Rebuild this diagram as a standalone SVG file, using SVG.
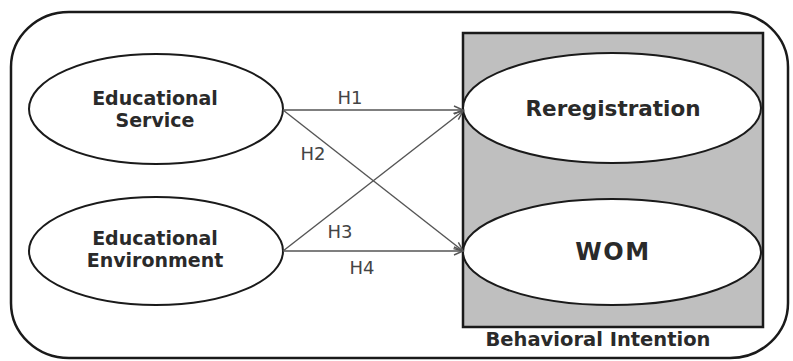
<svg xmlns="http://www.w3.org/2000/svg" width="793" height="361" viewBox="0 0 793 361">
<defs>
<style>
.bold{font-family:"DejaVu Sans",sans-serif;font-weight:bold;fill:#2a2a2a;text-anchor:middle}
.lbl{font-family:"DejaVu Sans",sans-serif;fill:#444;text-anchor:middle;font-size:18px}
.ell{fill:#fff;stroke:#1a1a1a;stroke-width:2}
.con{stroke:#555;stroke-width:1.4;fill:none;marker-end:url(#arr)}
</style>
<marker id="arr" markerWidth="12" markerHeight="12" refX="10" refY="5" orient="auto" markerUnits="userSpaceOnUse">
<path d="M1,1 L10,5 L1,9" fill="none" stroke="#555" stroke-width="1.4"/>
</marker>
</defs>
<rect id="frame" x="11" y="12" width="777" height="346" rx="58" ry="55" fill="#fff" stroke="#1a1a1a" stroke-width="2.5"/>
<g id="behavioral-intention">
<rect x="463" y="33" width="300" height="294" fill="#bfbfbf" stroke="#1a1a1a" stroke-width="2.5"/>
<text class="bold" x="598" y="346" font-size="19.5">Behavioral Intention</text>
</g>
<g id="reregistration">
<ellipse class="ell" cx="612" cy="108" rx="149" ry="55"/>
<text class="bold" x="613" y="116" font-size="21.5">Reregistration</text>
</g>
<g id="wom">
<ellipse class="ell" cx="612" cy="252" rx="149" ry="53"/>
<text class="bold" x="613" y="260" font-size="24" letter-spacing="1.5">WOM</text>
</g>
<g id="educational-service">
<ellipse class="ell" cx="156" cy="109" rx="127" ry="55"/>
<text class="bold" x="155" y="105" font-size="19">Educational</text>
<text class="bold" x="155" y="127" font-size="19">Service</text>
</g>
<g id="educational-environment">
<ellipse class="ell" cx="156" cy="251" rx="127" ry="54"/>
<text class="bold" x="155" y="245" font-size="19">Educational</text>
<text class="bold" x="155" y="267" font-size="19">Environment</text>
</g>
<g id="connectors">
<line class="con" x1="283" y1="110" x2="463" y2="110"/>
<line class="con" x1="283" y1="110" x2="463" y2="251"/>
<line class="con" x1="283" y1="251" x2="463" y2="111"/>
<line class="con" x1="283" y1="251" x2="463" y2="251"/>
<text class="lbl" x="350" y="104">H1</text>
<text class="lbl" x="313" y="160">H2</text>
<text class="lbl" x="340" y="238">H3</text>
<text class="lbl" x="362" y="274">H4</text>
</g>
</svg>
